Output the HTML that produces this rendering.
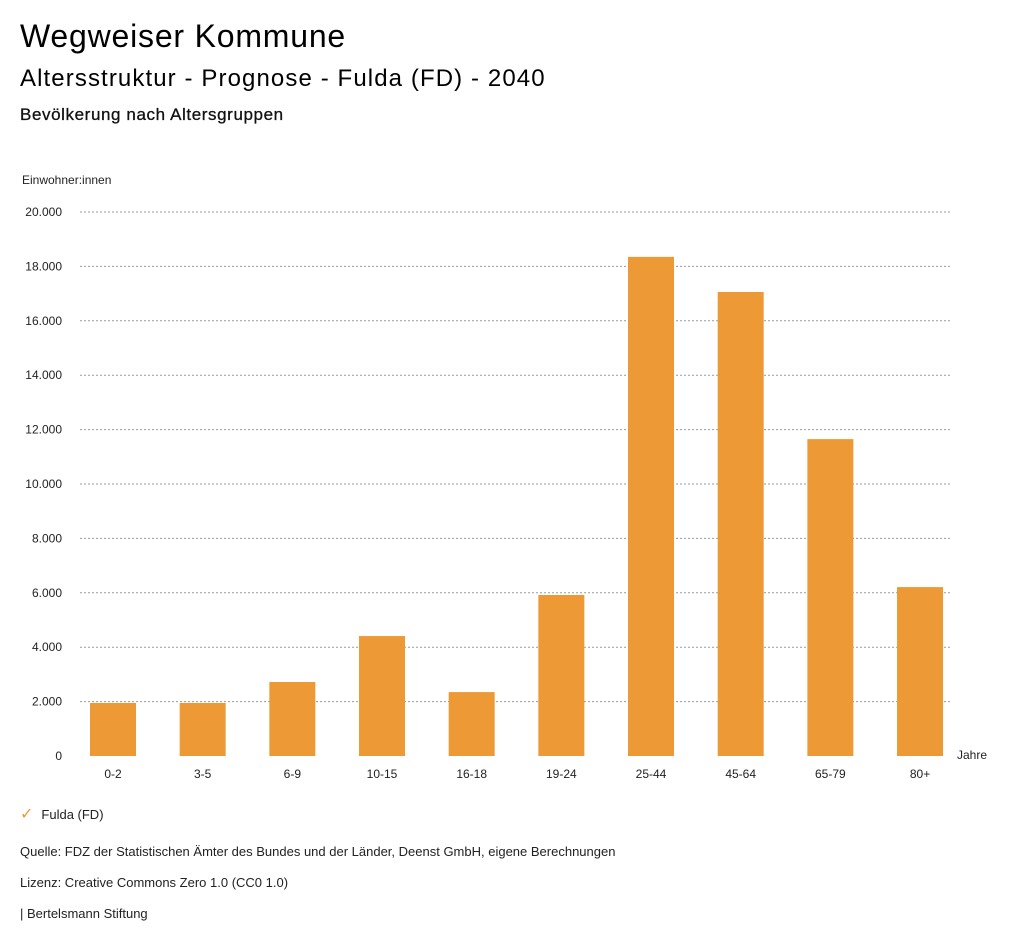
<!DOCTYPE html>
<html><head><meta charset="utf-8"><style>
body{margin:0;background:#fff;font-family:"Liberation Sans",sans-serif;color:#000;}
#wrap{position:relative;width:1024px;height:946px;overflow:hidden;}
.t{position:absolute;white-space:nowrap;}
</style></head><body>
<div id="wrap">
<div class="t" style="left:20px;top:18px;font-size:32px;letter-spacing:0.8px;">Wegweiser Kommune</div>
<div class="t" style="left:20px;top:65px;font-size:24px;letter-spacing:1.1px;">Altersstruktur - Prognose - Fulda (FD) - 2040</div>
<div class="t" style="left:20px;top:105px;font-size:17px;font-weight:normal;letter-spacing:0.6px;color:#111;-webkit-text-stroke:0.3px #111;">Bevölkerung nach Altersgruppen</div>
<svg id="chart" width="1024" height="946" style="position:absolute;left:0;top:0"></svg>
<div class="t" style="left:20px;top:804px;font-size:13px;color:#222;"><span style="color:#ed9936;font-size:16px;margin-right:8px;">✓</span>Fulda (FD)</div>
<div class="t" style="left:20px;top:844px;font-size:13px;color:#222;">Quelle: FDZ der Statistischen Ämter des Bundes und der Länder, Deenst GmbH, eigene Berechnungen</div>
<div class="t" style="left:20px;top:875px;font-size:13px;color:#222;">Lizenz: Creative Commons Zero 1.0 (CC0 1.0)</div>
<div class="t" style="left:20px;top:906px;font-size:13px;color:#222;">| Bertelsmann Stiftung</div>
</div>
<script>
const categories=["0-2","3-5","6-9","10-15","16-18","19-24","25-44","45-64","65-79","80+"];
const values=[1950,1950,2720,4410,2350,5920,18350,17060,11650,6210];
const yTicks=[0,2000,4000,6000,8000,10000,12000,14000,16000,18000,20000];
const yTickLabels=["0","2.000","4.000","6.000","8.000","10.000","12.000","14.000","16.000","18.000","20.000"];
const NS="http://www.w3.org/2000/svg";
const svg=document.getElementById('chart');
const y0=756,y1=212,yMax=20000;
function yScale(v){return y0-(v/yMax)*(y0-y1);}
function xScale(i){return 113+i*89.67;}
function mk(tag,attrs,text){const e=document.createElementNS(NS,tag);for(const k in attrs)e.setAttribute(k,attrs[k]);if(text!==undefined)e.textContent=text;svg.appendChild(e);return e;}
yTicks.forEach((t,i)=>{
  const y=yScale(t);
  if(t>0){const g=mk('line',{x1:80,x2:952,y1:y,y2:y,stroke:'#999','stroke-dasharray':'2,2','stroke-width':1});
  
  }
  const l=mk('text',{x:62,y:y+4,'text-anchor':'end','font-size':12,fill:'#222','font-family':'Liberation Sans, sans-serif'},yTickLabels[i]);
  
  
});
const yt=mk('text',{x:22,y:184,'font-size':12,fill:'#222','font-family':'Liberation Sans, sans-serif'},'Einwohner:innen');


const xt=mk('text',{x:957,y:759,'font-size':12,fill:'#222','font-family':'Liberation Sans, sans-serif'},'Jahre');


categories.forEach((c,i)=>{
  const cx=xScale(i),v=values[i];
  const b=mk('rect',{x:cx-23,y:yScale(v),width:46,height:y0-yScale(v),fill:'#ed9936'});
  
  
  const l=mk('text',{x:cx,y:778,'text-anchor':'middle','font-size':12,fill:'#222','font-family':'Liberation Sans, sans-serif'},c);
  
  
});
</script>
</body></html>
